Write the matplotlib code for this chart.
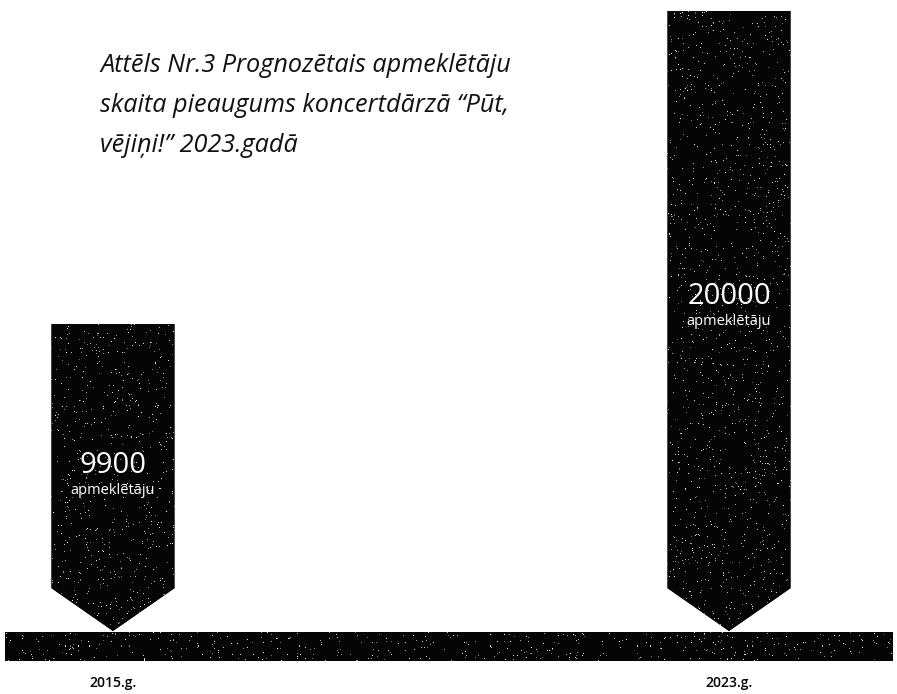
import numpy as np
import matplotlib.pyplot as plt
from matplotlib.patches import Polygon, Rectangle

# ----------------------------
# Data
# ----------------------------
years = ["2015.g.", "2023.g."]
visitors = [9900, 20000]
value_labels = ["9900", "20000"]
unit_label = "apmeklētāju"
title = "Attēls Nr.3 Prognozētais apmeklētāju\nskaita pieaugums koncertdārzā \u201cPūt,\nvējiņi!\u201d 2023.gadā"

plt.rcParams['font.family'] = ['Open Sans', 'DejaVu Sans']

fig = plt.figure(figsize=(8.97, 6.94), dpi=100)
ax = fig.add_axes([0, 0, 1, 1])
ax.set_xlim(-0.1834, 1.2727)
ax.set_ylim(-2032, 20355)
ax.axis("off")

half_w = 0.0998
notch = 1380

# speckle texture (decoration only)
rng = np.random.default_rng(3)
tex = np.zeros((694, 897, 4))
tex[..., 3] = 1.0
tex[..., :3] = 0.02
mask = rng.random((694, 897)) < 0.018
tex[mask, :3] = rng.uniform(0.4, 1.0, mask.sum())[:, None]


def textured(patch):
    ax.add_patch(patch)
    im = ax.imshow(tex, extent=[*ax.get_xlim(), *ax.get_ylim()],
                   interpolation="nearest", aspect="auto", zorder=patch.get_zorder())
    im.set_clip_path(patch)


# ----------------------------
# Arrow bars
# ----------------------------
for i, v in enumerate(visitors):
    verts = [(i - half_w, v), (i + half_w, v), (i + half_w, notch),
             (i, 0), (i - half_w, notch)]
    textured(Polygon(verts, closed=True, facecolor="#050505", edgecolor="none", zorder=2))

    ty = 0.54 * v
    ax.text(i, ty, value_labels[i], color="white", fontsize=21,
            ha="center", va="center", zorder=5)
    ax.text(i, ty - 800, unit_label, color="white", fontsize=10.5,
            ha="center", va="center", zorder=5)

    ax.text(i, -1670, years[i], color="black", fontsize=10, fontweight="semibold",
            ha="center", va="center")

# base band
textured(Rectangle((-0.1753, -970), 1.44, 940, facecolor="#050505",
                   edgecolor="none", zorder=2))

# title
ax.text(-0.021, 16950, title, fontsize=18.2, style="italic", color="#111111",
        ha="left", va="center", linespacing=1.78)

fig.savefig("out.png", dpi=100)
